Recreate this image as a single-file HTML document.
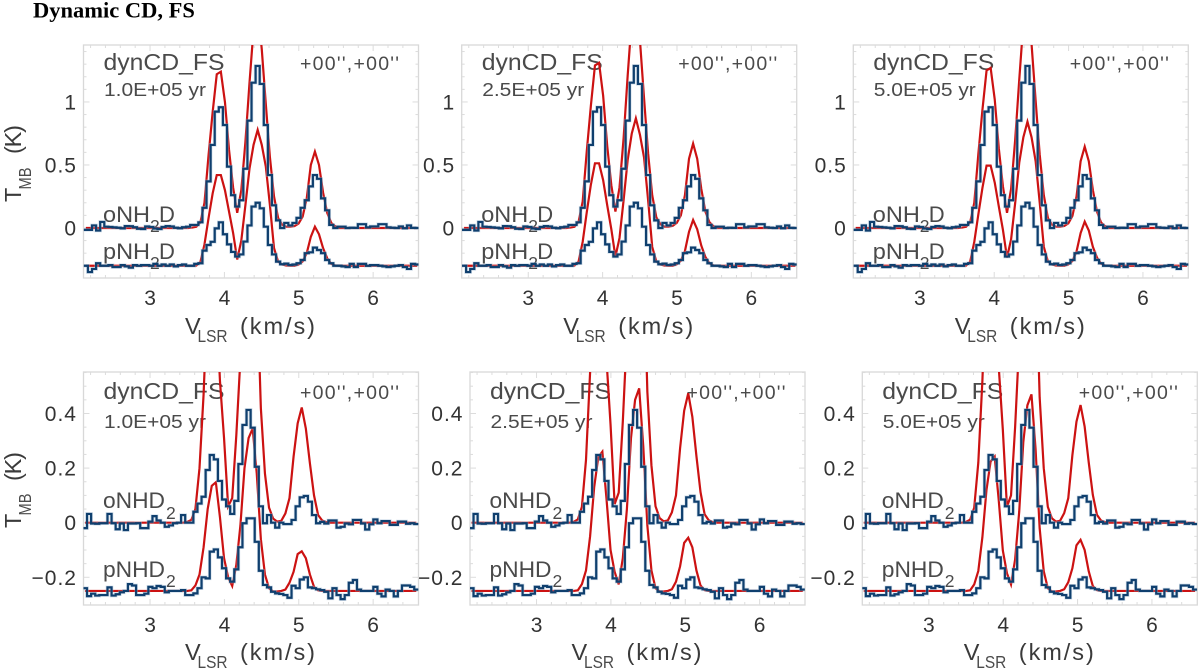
<!DOCTYPE html>
<html lang="en">
<head>
<meta charset="utf-8">
<title>Dynamic CD, FS</title>
<style>
html,body{margin:0;padding:0;background:#fff;width:1200px;height:672px;overflow:hidden}
svg{display:block;position:absolute;left:0;top:0}
text{font-family:"Liberation Sans",sans-serif;fill:#4a4a4a}
.title{font-family:"Liberation Serif",serif;font-weight:bold;font-size:22.5px;fill:#000}
.big{font-size:23px}
.yr{font-size:18.5px}
.off{font-size:19.5px}
.mol{font-size:22px}
.sub{font-size:17.5px}
.ax{font-size:23.5px;fill:#3a3a3a}
.tick{font-size:21px;letter-spacing:1px;fill:#333}
</style>
</head>
<body>
<svg id="chart" xmlns="http://www.w3.org/2000/svg" width="1200" height="672" viewBox="0 0 1200 672">
  <defs id="clips"></defs>
  <text class="title" x="33" y="17.5">Dynamic CD, FS</text>

  <g id="p0" transform="translate(83.5,45)">
    <text class="big" x="20" y="25" textLength="121" lengthAdjust="spacingAndGlyphs">dynCD_FS</text>
    <text class="yr" x="20.5" y="51" textLength="102" lengthAdjust="spacingAndGlyphs">1.0E+05 yr</text>
    <text class="off" x="216.5" y="25" textLength="99">+00'',+00''</text>
    <g><text class="mol" x="19.5" y="177" textLength="47" lengthAdjust="spacingAndGlyphs">oNH</text><text class="sub" x="66.5" y="187">2</text><text class="mol" x="75.5" y="177">D</text></g>
    <g><text class="mol" x="19.5" y="214" textLength="47" lengthAdjust="spacingAndGlyphs">pNH</text><text class="sub" x="66.5" y="224">2</text><text class="mol" x="75.5" y="214">D</text></g>
    <g transform="translate(-62.5,157) rotate(-90)"><text class="ax" x="0" y="0">T</text><text class="sub" x="12.5" y="10" textLength="22" lengthAdjust="spacingAndGlyphs">MB</text><text class="ax" x="48" y="0" textLength="29">(K)</text></g>
    <g><text class="ax" x="101.5" y="289">V</text><text class="sub" x="114" y="297" textLength="30" lengthAdjust="spacingAndGlyphs">LSR</text><text class="ax" x="156.5" y="289" textLength="75">(km/s)</text></g>
  </g>

  <g id="p1" transform="translate(461.7,45)">
    <text class="big" x="20" y="25" textLength="121" lengthAdjust="spacingAndGlyphs">dynCD_FS</text>
    <text class="yr" x="20.5" y="51" textLength="102" lengthAdjust="spacingAndGlyphs">2.5E+05 yr</text>
    <text class="off" x="216.5" y="25" textLength="99">+00'',+00''</text>
    <g><text class="mol" x="19.5" y="177" textLength="47" lengthAdjust="spacingAndGlyphs">oNH</text><text class="sub" x="66.5" y="187">2</text><text class="mol" x="75.5" y="177">D</text></g>
    <g><text class="mol" x="19.5" y="214" textLength="47" lengthAdjust="spacingAndGlyphs">pNH</text><text class="sub" x="66.5" y="224">2</text><text class="mol" x="75.5" y="214">D</text></g>
    <g><text class="ax" x="101.5" y="289">V</text><text class="sub" x="114" y="297" textLength="30" lengthAdjust="spacingAndGlyphs">LSR</text><text class="ax" x="156.5" y="289" textLength="75">(km/s)</text></g>
  </g>

  <g id="p2" transform="translate(853.3,45)">
    <text class="big" x="20" y="25" textLength="121" lengthAdjust="spacingAndGlyphs">dynCD_FS</text>
    <text class="yr" x="20.5" y="51" textLength="102" lengthAdjust="spacingAndGlyphs">5.0E+05 yr</text>
    <text class="off" x="216.5" y="25" textLength="99">+00'',+00''</text>
    <g><text class="mol" x="19.5" y="177" textLength="47" lengthAdjust="spacingAndGlyphs">oNH</text><text class="sub" x="66.5" y="187">2</text><text class="mol" x="75.5" y="177">D</text></g>
    <g><text class="mol" x="19.5" y="214" textLength="47" lengthAdjust="spacingAndGlyphs">pNH</text><text class="sub" x="66.5" y="224">2</text><text class="mol" x="75.5" y="214">D</text></g>
    <g><text class="ax" x="101.5" y="289">V</text><text class="sub" x="114" y="297" textLength="30" lengthAdjust="spacingAndGlyphs">LSR</text><text class="ax" x="156.5" y="289" textLength="75">(km/s)</text></g>
  </g>

  <g id="p3" transform="translate(83.5,372)">
    <text class="big" x="20" y="27" textLength="121" lengthAdjust="spacingAndGlyphs">dynCD_FS</text>
    <text class="yr" x="20.5" y="56" textLength="102" lengthAdjust="spacingAndGlyphs">1.0E+05 yr</text>
    <text class="off" x="216.5" y="27" textLength="99">+00'',+00''</text>
    <g><text class="mol" x="19.5" y="136" textLength="62" lengthAdjust="spacingAndGlyphs">oNHD</text><text class="sub" x="82.5" y="147">2</text></g>
    <g><text class="mol" x="19.5" y="205" textLength="62" lengthAdjust="spacingAndGlyphs">pNHD</text><text class="sub" x="82.5" y="215">2</text></g>
    <g transform="translate(-62.5,156) rotate(-90)"><text class="ax" x="0" y="0">T</text><text class="sub" x="12.5" y="10" textLength="22" lengthAdjust="spacingAndGlyphs">MB</text><text class="ax" x="47" y="0" textLength="29">(K)</text></g>
    <g><text class="ax" x="101.5" y="288">V</text><text class="sub" x="114" y="296" textLength="30" lengthAdjust="spacingAndGlyphs">LSR</text><text class="ax" x="156.5" y="288" textLength="75">(km/s)</text></g>
  </g>

  <g id="p4" transform="translate(470,372)">
    <text class="big" x="20" y="27" textLength="121" lengthAdjust="spacingAndGlyphs">dynCD_FS</text>
    <text class="yr" x="20.5" y="56" textLength="102" lengthAdjust="spacingAndGlyphs">2.5E+05 yr</text>
    <text class="off" x="216.5" y="27" textLength="99">+00'',+00''</text>
    <g><text class="mol" x="19.5" y="136" textLength="62" lengthAdjust="spacingAndGlyphs">oNHD</text><text class="sub" x="82.5" y="147">2</text></g>
    <g><text class="mol" x="19.5" y="205" textLength="62" lengthAdjust="spacingAndGlyphs">pNHD</text><text class="sub" x="82.5" y="215">2</text></g>
    <g><text class="ax" x="101.5" y="288">V</text><text class="sub" x="114" y="296" textLength="30" lengthAdjust="spacingAndGlyphs">LSR</text><text class="ax" x="156.5" y="288" textLength="75">(km/s)</text></g>
  </g>

  <g id="p5" transform="translate(862.3,372)">
    <text class="big" x="20" y="27" textLength="121" lengthAdjust="spacingAndGlyphs">dynCD_FS</text>
    <text class="yr" x="20.5" y="56" textLength="102" lengthAdjust="spacingAndGlyphs">5.0E+05 yr</text>
    <text class="off" x="216.5" y="27" textLength="99">+00'',+00''</text>
    <g><text class="mol" x="19.5" y="136" textLength="62" lengthAdjust="spacingAndGlyphs">oNHD</text><text class="sub" x="82.5" y="147">2</text></g>
    <g><text class="mol" x="19.5" y="205" textLength="62" lengthAdjust="spacingAndGlyphs">pNHD</text><text class="sub" x="82.5" y="215">2</text></g>
    <g><text class="ax" x="101.5" y="288">V</text><text class="sub" x="114" y="296" textLength="30" lengthAdjust="spacingAndGlyphs">LSR</text><text class="ax" x="156.5" y="288" textLength="75">(km/s)</text></g>
  </g>
</svg>

<script>
// Observed spectra (K), one value per velocity channel; same observation in each column
const obsONH2D = [-.015,-.015,.02,-.02,.048,.01,.008,.005,.002,-.003,
  .015,.014,.006,-.006,-.008,.012,.008,-.004,-.008,.008,
  .015,.012,.002,-.002,.006,.01,.024,.024,.045,.16,
  .37,.659,.923,.958,.817,.487,.26,.17,.22,.47,
  .852,1.153,1.286,1.143,.817,.42,.18,.06,0,.04,
  .02,.04,.08,.16,.22,.33,.42,.39,.235,.14,
  .024,0,.01,.01,0,.002,.001,.03,.03,.005,
  .012,.012,.03,.03,.005,.002,0,.012,-.002,.02,.001,0];
const obsPNH2D = [-.3,-.35,-.325,-.28,-.3,-.3,-.295,-.31,-.31,-.295,
  -.305,-.315,-.295,-.3,-.295,-.295,-.3,-.285,-.3,-.29,
  -.3,-.29,-.305,-.295,-.29,-.3,-.3,-.285,-.28,-.18,
  -.135,-.11,-.003,.045,-.05,-.13,-.19,-.227,-.21,-.108,
  .02,.17,.2,.156,.01,-.135,-.21,-.267,-.288,-.283,
  -.294,-.29,-.28,-.254,-.2,-.193,-.156,-.175,-.2,-.254,
  -.28,-.3,-.3,-.305,-.31,-.285,-.31,-.285,-.285,-.3,
  -.295,-.295,-.3,-.305,-.31,-.305,-.3,-.295,-.31,-.325,-.285,-.29];
const obsONHD2 = [-.02,.032,-.003,-.004,-.002,-.002,.032,-.002,-.024,-.003,
  -.027,-.003,-.003,-.002,-.02,-.02,.004,.024,.008,0,
  -.015,-.01,-.002,0,.028,0,0,.04,.07,.095,
  .193,.248,.232,.153,.085,.06,.032,.08,.215,.358,
  .413,.348,.205,.06,-.002,.028,0,-.018,0,-.005,
  -.005,.01,.06,.093,.098,.077,.028,-.002,.003,-.003,
  .008,.008,-.018,-.015,-.003,-.006,.01,.01,-.003,-.025,
  -.006,.012,-.002,.006,.006,-.008,-.008,.004,.004,-.004,-.002,-.005];
const obsPNHD2 = [-.24,-.269,-.26,-.267,-.265,-.265,-.237,-.267,-.262,-.255,
  -.25,-.225,-.23,-.265,-.265,-.26,-.235,-.24,-.232,-.235,
  -.255,-.25,-.25,-.25,-.247,-.265,-.265,-.259,-.24,-.2,
  -.204,-.106,-.098,-.127,-.167,-.204,-.216,-.171,-.09,-.002,
  .016,.016,-.07,-.176,-.228,-.237,-.253,-.259,-.261,-.265,
  -.275,-.231,-.24,-.208,-.2,-.237,-.24,-.244,-.247,-.253,
  -.277,-.24,-.265,-.28,-.265,-.22,-.21,-.245,-.25,-.25,
  -.25,-.235,-.26,-.27,-.245,-.25,-.27,-.25,-.23,-.23,-.235,-.245];

// Model spectra (K) per panel
const modelO1 = [0,0,0,0,0,0,0,0,0,0,0,0,0,0,0,0,0,0,0,0,0,0,0,0,0,0,
  .003,.01,.045,.2,.58,.92,1.22,1.24,1.0,.62,.32,.12,.3,.68,1.15,1.58,1.75,1.42,.98,.56,
  .25,.08,.025,.01,.01,.015,.035,.09,.235,.5,.606,.5,.28,.12,.04,.012,
  0,0,0,0,0,0,0,0,0,0,0,0,0,0,0,0,0,0,0,0];
const modelO2 = [0,0,0,0,0,0,0,0,0,0,0,0,0,0,0,0,0,0,0,0,0,0,0,0,0,0,
  .003,.01,.05,.21,.61,.97,1.29,1.31,1.05,.65,.34,.13,.32,.71,1.21,1.66,1.84,1.49,1.03,.59,
  .26,.085,.03,.01,.01,.017,.04,.1,.26,.55,.67,.55,.31,.13,.045,.013,
  0,0,0,0,0,0,0,0,0,0,0,0,0,0,0,0,0,0,0,0];
const modelO3 = [0,0,0,0,0,0,0,0,0,0,0,0,0,0,0,0,0,0,0,0,0,0,0,0,0,0,
  .003,.01,.046,.2,.59,.94,1.25,1.27,1.02,.63,.33,.12,.31,.7,1.18,1.63,1.8,1.46,1.01,.58,
  .26,.08,.026,.01,.01,.016,.037,.096,.25,.53,.645,.53,.3,.13,.043,.013,
  0,0,0,0,0,0,0,0,0,0,0,0,0,0,0,0,0,0,0,0];
const modelP1 = [-.3,-.3,-.3,-.3,-.3,-.3,-.3,-.3,-.3,-.3,-.3,-.3,-.3,-.3,-.3,-.3,-.3,-.3,-.3,-.3,-.3,-.3,-.3,-.3,-.3,-.3,-.3,
  -.298,-.27,-.13,.08,.275,.42,.42,.3,.13,-.04,-.25,-.1,.18,.47,.66,.778,.66,.486,.18,
  -.16,-.267,-.29,-.298,-.3,-.3,-.29,-.265,-.2,-.07,.01,-.05,-.16,-.24,-.285,-.298,
  -.3,-.3,-.3,-.3,-.3,-.3,-.3,-.3,-.3,-.3,-.3,-.3,-.3,-.3,-.3,-.3,-.3,-.3,-.3,-.3];
const modelP2 = [-.3,-.3,-.3,-.3,-.3,-.3,-.3,-.3,-.3,-.3,-.3,-.3,-.3,-.3,-.3,-.3,-.3,-.3,-.3,-.3,-.3,-.3,-.3,-.3,-.3,-.3,-.3,
  -.298,-.266,-.11,.126,.344,.513,.513,.38,.18,-.01,-.228,-.08,.22,.54,.75,.87,.74,.56,.22,
  -.15,-.265,-.29,-.298,-.3,-.3,-.288,-.26,-.183,-.03,.063,-.01,-.14,-.23,-.28,-.298,
  -.3,-.3,-.3,-.3,-.3,-.3,-.3,-.3,-.3,-.3,-.3,-.3,-.3,-.3,-.3,-.3,-.3,-.3,-.3,-.3];
const modelP3 = [-.3,-.3,-.3,-.3,-.3,-.3,-.3,-.3,-.3,-.3,-.3,-.3,-.3,-.3,-.3,-.3,-.3,-.3,-.3,-.3,-.3,-.3,-.3,-.3,-.3,-.3,-.3,
  -.298,-.267,-.11,.11,.32,.495,.495,.36,.17,-.015,-.235,-.09,.2,.52,.72,.843,.72,.53,.2,
  -.15,-.265,-.29,-.298,-.3,-.3,-.289,-.262,-.187,-.04,.05,-.02,-.15,-.235,-.283,-.298,
  -.3,-.3,-.3,-.3,-.3,-.3,-.3,-.3,-.3,-.3,-.3,-.3,-.3,-.3,-.3,-.3,-.3,-.3,-.3,-.3];
const modelOD1 = [0,0,0,0,0,0,0,0,0,0,0,0,0,0,0,0,0,0,0,0,0,0,0,0,0,
  .003,.01,.05,.2,.47,.85,1.0,.85,.52,.31,.06,.09,.32,.6,1.0,1.4,1.3,.9,.42,.18,
  .055,.015,.004,.007,.034,.09,.242,.364,.422,.345,.217,.1,.028,.008,.002,
  0,0,0,0,0,0,0,0,0,0,0,0,0,0,0,0,0,0,0,0,0,0];
const modelOD2 = [0,0,0,0,0,0,0,0,0,0,0,0,0,0,0,0,0,0,0,0,0,0,0,0,0,
  .003,.012,.058,.23,.55,.98,1.15,.98,.6,.36,.068,.11,.37,.69,1.15,1.6,1.5,1.03,.48,.21,
  .06,.017,.005,.008,.038,.1,.272,.41,.474,.388,.244,.112,.031,.009,.002,
  0,0,0,0,0,0,0,0,0,0,0,0,0,0,0,0,0,0,0,0,0,0];
const modelOD3 = [0,0,0,0,0,0,0,0,0,0,0,0,0,0,0,0,0,0,0,0,0,0,0,0,0,
  .003,.011,.055,.22,.52,.93,1.1,.93,.57,.34,.058,.1,.35,.66,1.1,1.54,1.43,.99,.46,.2,
  .058,.016,.004,.007,.035,.09,.247,.37,.431,.352,.221,.102,.029,.008,.002,
  0,0,0,0,0,0,0,0,0,0,0,0,0,0,0,0,0,0,0,0,0,0];
const modelPD1 = [-.25,-.25,-.25,-.25,-.25,-.25,-.25,-.25,-.25,-.25,-.25,-.25,-.25,-.25,-.25,-.25,-.25,-.25,-.25,-.25,-.25,-.25,-.25,-.25,-.25,-.25,
  -.248,-.23,-.19,-.09,.05,.135,.148,.02,-.13,-.2,-.232,-.155,-.01,.2,.31,.345,.18,-.06,-.19,-.24,
  -.252,-.252,-.25,-.245,-.22,-.18,-.115,-.105,-.13,-.19,-.235,-.248,
  -.25,-.25,-.25,-.25,-.25,-.25,-.25,-.25,-.25,-.25,-.25,-.25,-.25,-.25,-.25,-.25,-.25,-.25,-.25,-.25,-.25,-.25,-.25,-.25];
const modelPD2 = [-.25,-.25,-.25,-.25,-.25,-.25,-.25,-.25,-.25,-.25,-.25,-.25,-.25,-.25,-.25,-.25,-.25,-.25,-.25,-.25,-.25,-.25,-.25,-.25,-.25,-.25,
  -.248,-.225,-.175,-.05,.13,.24,.26,.09,-.1,-.18,-.226,-.13,.05,.31,.45,.492,.28,-.01,-.175,-.24,
  -.252,-.252,-.25,-.244,-.216,-.16,-.074,-.055,-.09,-.175,-.23,-.247,
  -.25,-.25,-.25,-.25,-.25,-.25,-.25,-.25,-.25,-.25,-.25,-.25,-.25,-.25,-.25,-.25,-.25,-.25,-.25,-.25,-.25,-.25,-.25,-.25];
const modelPD3 = [-.25,-.25,-.25,-.25,-.25,-.25,-.25,-.25,-.25,-.25,-.25,-.25,-.25,-.25,-.25,-.25,-.25,-.25,-.25,-.25,-.25,-.25,-.25,-.25,-.25,-.25,
  -.248,-.226,-.177,-.053,.12,.224,.242,.082,-.102,-.185,-.226,-.135,.04,.295,.43,.47,.27,-.02,-.178,-.24,
  -.252,-.252,-.25,-.244,-.218,-.167,-.083,-.063,-.1,-.178,-.232,-.247,
  -.25,-.25,-.25,-.25,-.25,-.25,-.25,-.25,-.25,-.25,-.25,-.25,-.25,-.25,-.25,-.25,-.25,-.25,-.25,-.25,-.25,-.25,-.25,-.25];

// Axis tick values and printed labels
const xMajorTicks = [3,4,5,6];
const xMajorLabels = ['3','4','5','6'];
const xMinorTicks = [2.2,2.4,2.6,2.8,3.2,3.4,3.6,3.8,4.2,4.4,4.6,4.8,5.2,5.4,5.6,5.8,6.2,6.4];
const topYMajorTicks = [0,0.5,1];
const topYMajorLabels = ['0','0.5','1'];
const topYMinorTicks = [-.3,-.2,-.1,.1,.2,.3,.4,.6,.7,.8,.9,1.1,1.2,1.3,1.4];
const botYMajorTicks = [-0.2,0,0.2,0.4];
const botYMajorLabels = ['\u22120.2','0','0.2','0.4'];
const botYMinorTicks = [-.25,-.15,-.1,-.05,.05,.1,.15,.25,.3,.35,.45,.5,.55];

// Layout (not data)
const WIDTH = 335, HEIGHT = 233, XMIN = 2.105, XMAX = 6.61, DV = 0.055;
const NS = 'http://www.w3.org/2000/svg';

const panelConfigs = [
  {id:'p0', top:true,  v0:2.137, yMin:-.397, yMax:1.452, obsA:obsONH2D, obsB:obsPNH2D, modA:modelO1,  modB:modelP1},
  {id:'p1', top:true,  v0:2.137, yMin:-.397, yMax:1.452, obsA:obsONH2D, obsB:obsPNH2D, modA:modelO2,  modB:modelP2},
  {id:'p2', top:true,  v0:2.137, yMin:-.397, yMax:1.452, obsA:obsONH2D, obsB:obsPNH2D, modA:modelO3,  modB:modelP3},
  {id:'p3', top:false, v0:2.125, yMin:-.3015, yMax:.552, obsA:obsONHD2, obsB:obsPNHD2, modA:modelOD1, modB:modelPD1},
  {id:'p4', top:false, v0:2.125, yMin:-.3015, yMax:.552, obsA:obsONHD2, obsB:obsPNHD2, modA:modelOD2, modB:modelPD2},
  {id:'p5', top:false, v0:2.125, yMin:-.3015, yMax:.552, obsA:obsONHD2, obsB:obsPNHD2, modA:modelOD3, modB:modelPD3}
];

function xScale(v){ return (v - XMIN) / (XMAX - XMIN) * WIDTH; }
function yScale(t, cfg){ return (cfg.yMax - t) / (cfg.yMax - cfg.yMin) * HEIGHT; }

function stepPath(values, cfg){
  let d = '';
  values.forEach(function(val, i){
    const c = cfg.v0 + DV * i;
    const x0 = xScale(c - DV / 2).toFixed(2), x1 = xScale(c + DV / 2).toFixed(2), y = yScale(val, cfg).toFixed(2);
    d += (i === 0 ? 'M' + x0 + ' ' + y : 'L' + x0 + ' ' + y) + 'L' + x1 + ' ' + y;
  });
  return d;
}
function linePath(values, cfg){
  return values.map(function(val, i){
    return (i === 0 ? 'M' : 'L') + xScale(cfg.v0 + DV * i).toFixed(2) + ' ' + yScale(val, cfg).toFixed(2);
  }).join('');
}
function addPath(parent, d, stroke, width, opacity){
  const p = document.createElementNS(NS, 'path');
  p.setAttribute('d', d);
  p.setAttribute('fill', 'none');
  p.setAttribute('stroke', stroke);
  p.setAttribute('stroke-width', width);
  p.setAttribute('stroke-linejoin', 'miter');
  if (opacity) p.setAttribute('stroke-opacity', opacity);
  parent.appendChild(p);
  return p;
}
function addTick(parent, x1, y1, x2, y2){
  const l = document.createElementNS(NS, 'line');
  l.setAttribute('x1', x1);
  l.setAttribute('y1', y1);
  l.setAttribute('x2', x2);
  l.setAttribute('y2', y2);
  l.setAttribute('stroke', '#dcdcdc');
  l.setAttribute('stroke-width', '1');
  
  
  parent.appendChild(l);
}

const clips = document.getElementById('clips');
panelConfigs.forEach(function(cfg, n){
  const g = document.getElementById(cfg.id);

  const clip = document.createElementNS(NS, 'clipPath');
  clip.setAttribute('id', 'clip' + n);
  const cr = document.createElementNS(NS, 'rect');
  cr.setAttribute('width', WIDTH);
  cr.setAttribute('height', HEIGHT);
  clip.appendChild(cr);
  clips.appendChild(clip);

  const frame = document.createElementNS(NS, 'rect');
  frame.setAttribute('width', WIDTH);
  frame.setAttribute('height', HEIGHT);
  frame.setAttribute('fill', 'none');
  frame.setAttribute('stroke', '#d8d8d8');
  frame.setAttribute('stroke-width', '1.3');
  
  
  g.appendChild(frame);

  xMajorTicks.forEach(function(v, i){
    const x = xScale(v);
    addTick(g, x, HEIGHT, x, HEIGHT - 6);
    addTick(g, x, 0, x, 6);
    const t = document.createElementNS(NS, 'text');
    t.setAttribute('class', 'tick');
    t.setAttribute('x', x + 0.5);
    t.setAttribute('y', HEIGHT + 27);
    t.setAttribute('text-anchor', 'middle');
    
    
    t.textContent = xMajorLabels[i];
    g.appendChild(t);
  });
  xMinorTicks.forEach(function(v){
    const x = xScale(v);
    addTick(g, x, HEIGHT, x, HEIGHT - 3);
    addTick(g, x, 0, x, 3);
  });

  const yMajor = cfg.top ? topYMajorTicks : botYMajorTicks;
  const yLabels = cfg.top ? topYMajorLabels : botYMajorLabels;
  const yMinor = cfg.top ? topYMinorTicks : botYMinorTicks;
  yMajor.forEach(function(v, i){
    const y = yScale(v, cfg);
    addTick(g, 0, y, 6, y);
    addTick(g, WIDTH, y, WIDTH - 6, y);
    const t = document.createElementNS(NS, 'text');
    t.setAttribute('class', 'tick');
    t.setAttribute('x', -6.5);
    t.setAttribute('y', y + 7.5);
    t.setAttribute('text-anchor', 'end');
    
    
    t.textContent = yLabels[i];
    g.appendChild(t);
  });
  yMinor.forEach(function(v){
    const y = yScale(v, cfg);
    addTick(g, 0, y, 3, y);
    addTick(g, WIDTH, y, WIDTH - 3, y);
  });

  const plot = document.createElementNS(NS, 'g');
  plot.setAttribute('clip-path', 'url(#clip' + n + ')');
  
  
  g.appendChild(plot);

  const modelA = addPath(plot, linePath(cfg.modA, cfg), '#cc1212', '2.2');
  
  
  const modelB = addPath(plot, linePath(cfg.modB, cfg), '#cc1212', '2.2');
  
  

  addPath(plot, stepPath(cfg.obsA, cfg), '#9db7d0', '3.6', '0.45');
  addPath(plot, stepPath(cfg.obsB, cfg), '#9db7d0', '3.6', '0.45');
  const obsA = addPath(plot, stepPath(cfg.obsA, cfg), '#0f3f6e', '2.2');
  
  
  const obsB = addPath(plot, stepPath(cfg.obsB, cfg), '#0f3f6e', '2.2');
  
  
});
</script>
</body>
</html>
